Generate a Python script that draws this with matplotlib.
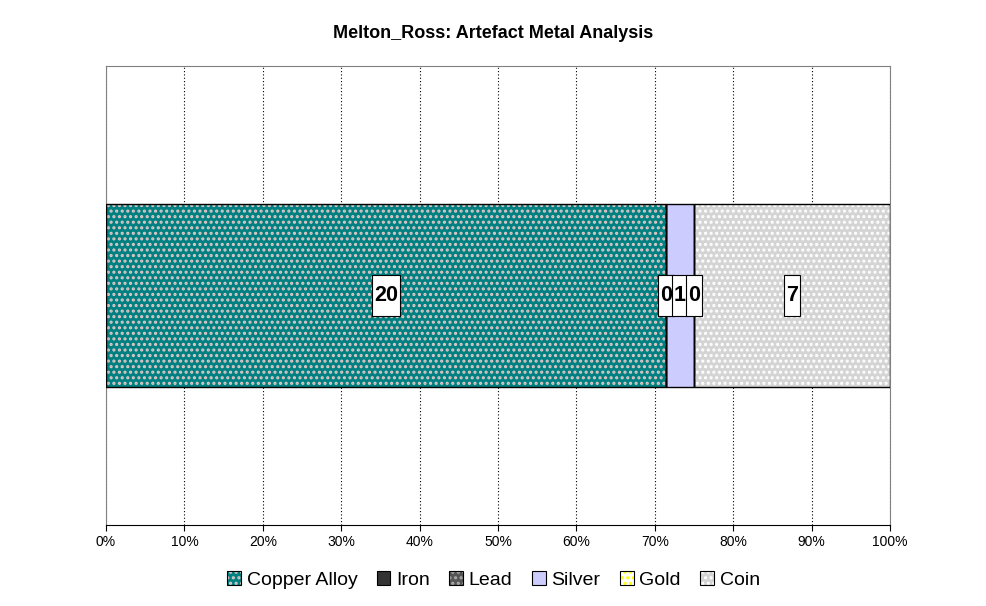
import numpy as np
from matplotlib import pyplot as plt
from matplotlib.patches import Patch
from matplotlib.path import Path
from matplotlib.legend_handler import HandlerTuple
import matplotlib as mpl

plt.rcParams['font.family'] = ['Liberation Sans', 'DejaVu Sans']
mpl.rcParams['hatch.linewidth'] = 1.5

categories = ["Copper Alloy", "Iron", "Lead", "Silver", "Gold", "Coin"]
counts = [20, 0, 0, 1, 0, 7]

faces = ["#008080", "#333333", "#555555", "#ccccff", "#ffffff", "#d4d4d4"]
hatchcols = ["#e0c8c8", "#333333", "#aaaaaa", "#ccccff", "#ffff00", "#ffffff"]
hatches = ["...", None, "...", None, "...", "..."]

total = sum(counts)
pct = [100.0 * c / total for c in counts]


def tall_box(x0, y0, width, height, mutation_size):
    # narrow side padding, tall top/bottom padding like the old Excel labels
    px = 0.07 * mutation_size
    py = 0.45 * mutation_size
    x0, y0 = x0 - px, y0 - py
    x1, y1 = x0 + width + 2 * px, y0 + height + 2 * py
    return Path([(x0, y0), (x1, y0), (x1, y1), (x0, y1), (x0, y0)], closed=True)


fig = plt.figure(figsize=(9.87, 6.06), dpi=100)
ax = fig.add_axes([106 / 987, 1 - 525 / 606, (890 - 106) / 987, (525 - 66) / 606])

left = 0.0
for i, name in enumerate(categories):
    ax.barh(0, pct[i], left=left, height=0.4, color=faces[i],
            hatch=hatches[i], edgecolor=hatchcols[i], linewidth=0, zorder=2)
    ax.barh(0, pct[i], left=left, height=0.4, fill=False,
            edgecolor="black", linewidth=1, zorder=3)
    ax.text(left + pct[i] / 2, 0, str(counts[i]), ha="center", va="center",
            fontsize=15.5, fontweight="bold", zorder=5,
            bbox=dict(boxstyle=tall_box, fc="white", ec="black", lw=0.8))
    left += pct[i]

ax.set_xlim(0, 100)
ax.set_ylim(-0.5, 0.5)
ax.set_xticks(np.arange(0, 101, 10))
ax.set_xticklabels([f"{v}%" for v in range(0, 101, 10)], fontsize=10)
ax.set_yticks([])
ax.grid(True, axis="x", linestyle=(0, (1, 2)), color="black", linewidth=0.8, zorder=0)
for s in ["top", "right", "left"]:
    ax.spines[s].set_color("#808080")
ax.spines["bottom"].set_color("black")
ax.tick_params(axis="x", length=4, color="black")

fig.text(0.5, 1 - 33 / 606, "Melton_Ross: Artefact Metal Analysis", ha="center",
         va="center", fontsize=13, fontweight="bold")

handles = [(Patch(facecolor=faces[i], hatch=hatches[i], edgecolor=hatchcols[i], linewidth=0),
            Patch(fill=False, edgecolor="black", linewidth=0.8))
           for i in range(len(categories))]
fig.legend(handles, categories, loc="center", bbox_to_anchor=(0.5, 1 - 580 / 606),
           ncol=6, frameon=False, fontsize=14, handlelength=0.7, handleheight=0.7,
           handletextpad=0.3, columnspacing=1.0,
           handler_map={tuple: HandlerTuple(ndivide=1, pad=0)})

plt.savefig("out.png", dpi=100)
plt.close()
